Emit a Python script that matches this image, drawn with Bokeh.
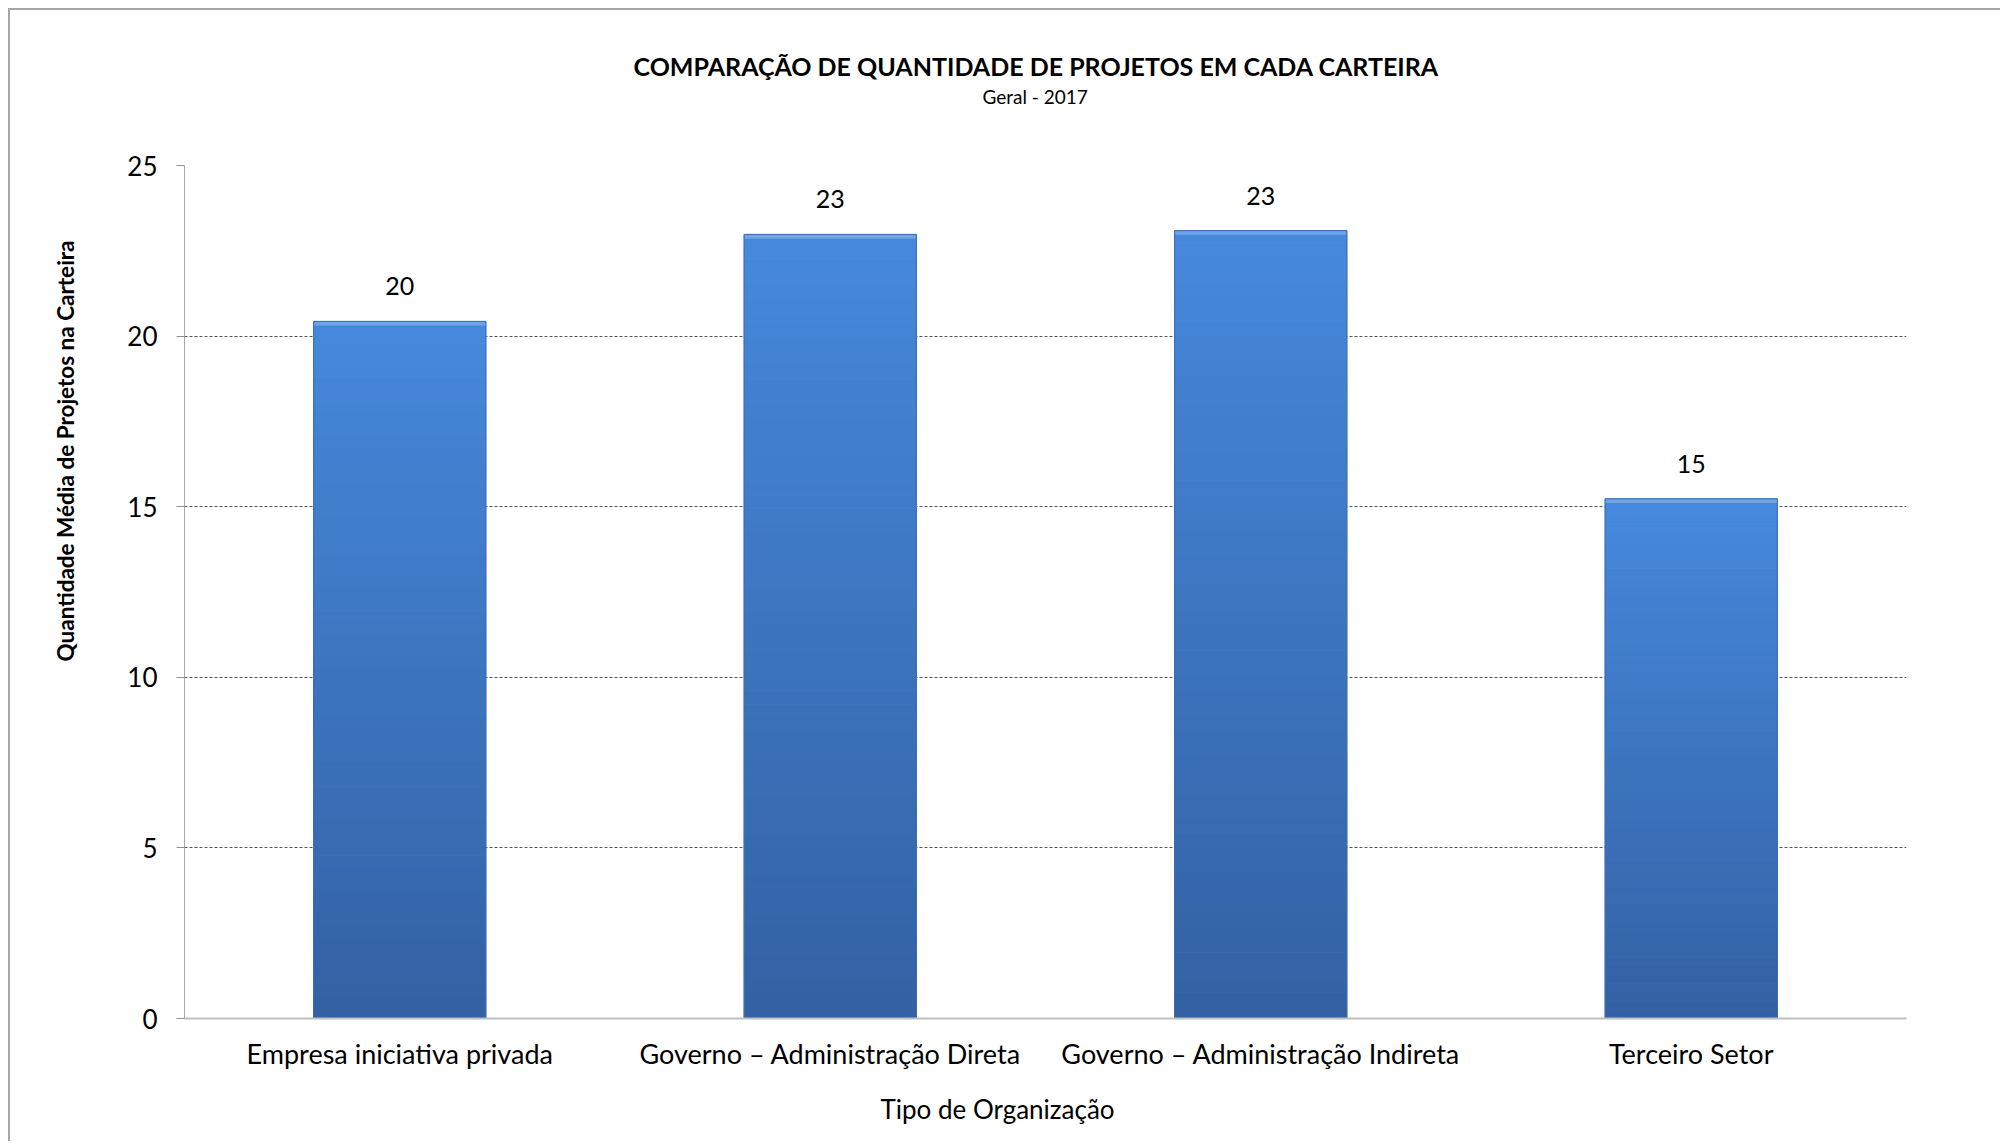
from bokeh.plotting import figure
from bokeh.models import ColumnDataSource, LabelSet, Title, FactorRange, Range1d, FixedTicker
from bokeh.core.properties import value
from bokeh.embed import file_html
from bokeh.resources import INLINE

# ---- data ----
categories = [
    "Empresa iniciativa privada",
    "Governo \u2013 Administra\u00e7\u00e3o Direta",
    "Governo \u2013 Administra\u00e7\u00e3o Indireta",
    "Terceiro Setor",
]
values = [20.43, 22.98, 23.09, 15.23]
bar_labels = ["20", "23", "23", "15"]
y_ticks = [0, 5, 10, 15, 20, 25]
title_text = "COMPARA\u00c7\u00c3O DE QUANTIDADE DE PROJETOS EM CADA CARTEIRA"
subtitle_text = "Geral - 2017"
x_title = "Tipo de Organiza\u00e7\u00e3o"
y_title = "Quantidade M\u00e9dia de Projetos na Carteira"

FONT = "Lato"

p = figure(
    x_range=FactorRange(*categories),
    y_range=Range1d(0, 25),
    width=1992, height=1133,
    output_backend="svg", toolbar_location=None,
    min_border_left=174, min_border_right=96,
    min_border_top=155, min_border_bottom=125,
)
p.styles = {"border-top": "2px solid #a6a6a6", "border-left": "2px solid #a6a6a6",
            "margin-left": "8px", "margin-top": "8px"}
p.outline_line_color = None

# gradient bars built from the values: slices from dark bottom to light top
def lerp(c1, c2, t):
    a = [int(c1[i:i + 2], 16) for i in (1, 3, 5)]
    b = [int(c2[i:i + 2], 16) for i in (1, 3, 5)]
    return "#%02x%02x%02x" % tuple(round(a[j] + (b[j] - a[j]) * t) for j in range(3))

bottom_c, top_c = "#3361a3", "#4689dc"
N = 60
xs, bots, tops, cols = [], [], [], []
for c, v in zip(categories, values):
    for k in range(N):
        xs.append(c)
        bots.append(v * k / N)
        tops.append(v * (k + 1) / N)
        cols.append(lerp(bottom_c, top_c, (k + 0.5) / N))
p.vbar(x=xs, bottom=bots, top=tops, width=0.4, fill_color=cols, line_color=cols, line_width=1)

src = ColumnDataSource(dict(x=categories, top=values, hl=[v - 0.12 for v in values], lab=bar_labels))
p.vbar(x="x", top="top", bottom="hl", width=0.4, source=src, fill_color="#6fa5e8", line_color=None)
p.vbar(x="x", top="top", bottom=0, width=0.4, source=src, fill_color=None, line_color="#3a6cae", line_width=1)

p.add_layout(LabelSet(x="x", y="top", text="lab", source=src, text_align="center",
                      text_baseline="bottom", y_offset=26, text_font=value(FONT),
                      text_font_size="25px", text_color="#000000"))

# titles (panels): spacer, subtitle, then main title outermost
p.title = Title(text=title_text, align="left", offset=449, text_font=FONT, text_font_size="25px",
                text_font_style="bold", text_color="#000000", standoff=3)
p.add_layout(Title(text=" ", text_font_size="10px", standoff=45), "above")
p.add_layout(Title(text=subtitle_text, align="left", offset=798, text_font=FONT, text_font_size="19px",
                   text_font_style="normal", text_color="#000000", standoff=0), "above")

# y-axis title: spacer panel then tight title panel
p.add_layout(Title(text=" ", text_font_size="10px", standoff=33), "left")
p.add_layout(Title(text=y_title, align="left", offset=357, text_font=FONT, text_font_size="22.5px",
                   text_font_style="bold", text_color="#000000", standoff=0), "left")
p.add_layout(Title(text=x_title, align="left", offset=696, text_font=FONT, text_font_size="26px",
                   text_font_style="normal", text_color="#000000", standoff=36), "below")

# axes
p.yaxis.ticker = FixedTicker(ticks=y_ticks)
for ax in (p.xaxis, p.yaxis):
    ax.major_label_text_font = FONT
    ax.major_label_text_color = "#000000"
    ax.minor_tick_line_color = None
p.xaxis.major_label_text_font_size = "27px"
p.yaxis.major_label_text_font_size = "26px"
p.xaxis.axis_line_color = "#c0c0c0"
p.xaxis.axis_line_width = 2
p.xaxis.major_tick_line_color = None
p.xaxis.major_label_standoff = 12
p.yaxis.axis_line_color = "#a6a6a6"
p.yaxis.major_tick_line_color = "#909090"
p.yaxis.major_tick_out = 8
p.yaxis.major_tick_in = 0
p.yaxis.major_label_standoff = 19

p.xgrid.grid_line_color = None
p.ygrid.grid_line_color = "#555555"
p.ygrid.grid_line_dash = "3 2"
p.ygrid.grid_line_width = 1

open("out.html", "w").write(file_html(p, INLINE))
